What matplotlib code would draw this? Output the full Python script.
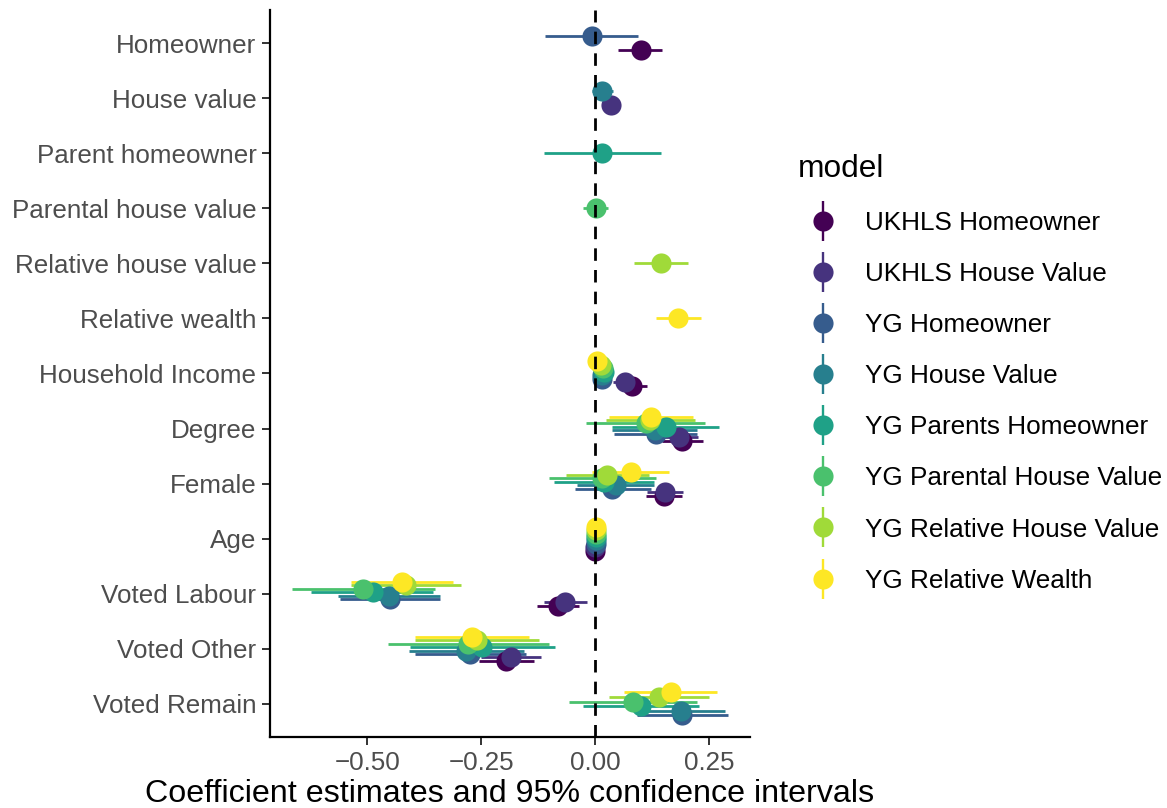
import numpy as np
import matplotlib
matplotlib.use("Agg")
import matplotlib.pyplot as plt
from matplotlib.lines import Line2D
from matplotlib.legend_handler import HandlerTuple
from matplotlib.ticker import FuncFormatter

plt.rcParams['font.family'] = ['Liberation Sans', 'DejaVu Sans']

nan = np.nan

terms = ['Homeowner', 'House value', 'Parent homeowner', 'Parental house value',
         'Relative house value', 'Relative wealth', 'Household Income', 'Degree',
         'Female', 'Age', 'Voted Labour', 'Voted Other', 'Voted Remain']

models = ['UKHLS Homeowner', 'UKHLS House Value', 'YG Homeowner', 'YG House Value',
          'YG Parents Homeowner', 'YG Parental House Value',
          'YG Relative House Value', 'YG Relative Wealth']

# one row per model, one column per term (nan = term not in that model)
estimate = [
    [0.100, nan, nan, nan, nan, nan, 0.080, 0.190, 0.151, -0.001, -0.082, -0.195, nan],
    [nan, 0.036, nan, nan, nan, nan, 0.066, 0.184, 0.153, 0.000, -0.066, -0.184, nan],
    [-0.007, nan, nan, nan, nan, nan, 0.015, 0.133, 0.038, 0.001, -0.449, -0.274, 0.191],
    [nan, 0.016, nan, nan, nan, nan, 0.016, 0.131, 0.045, 0.001, -0.451, -0.283, 0.188],
    [nan, nan, 0.016, nan, nan, nan, 0.020, 0.155, 0.020, 0.002, -0.488, -0.248, 0.101],
    [nan, nan, nan, 0.001, nan, nan, 0.017, 0.112, 0.016, 0.002, -0.508, -0.278, 0.084],
    [nan, nan, nan, nan, 0.144, nan, 0.014, 0.121, 0.027, 0.002, -0.414, -0.259, 0.141],
    [nan, nan, nan, nan, nan, 0.182, 0.004, 0.122, 0.078, 0.003, -0.424, -0.270, 0.166],
]
lower = [
    [0.051, nan, nan, nan, nan, nan, 0.048, 0.147, 0.112, -0.004, -0.128, -0.254, nan],
    [nan, 0.025, nan, nan, nan, nan, 0.040, 0.142, 0.114, -0.003, -0.112, -0.250, nan],
    [-0.109, nan, nan, nan, nan, nan, 0.003, 0.042, -0.044, -0.002, -0.559, -0.396, 0.093],
    [nan, -0.007, nan, nan, nan, nan, 0.004, 0.038, -0.039, -0.002, -0.564, -0.409, 0.093],
    [nan, nan, -0.113, nan, nan, nan, 0.008, 0.038, -0.090, -0.001, -0.624, -0.407, -0.026],
    [nan, nan, nan, -0.026, nan, nan, 0.005, -0.019, -0.102, -0.001, -0.664, -0.454, -0.057],
    [nan, nan, nan, nan, 0.086, nan, 0.002, 0.023, -0.064, -0.001, -0.535, -0.394, 0.031],
    [nan, nan, nan, nan, nan, 0.133, -0.008, 0.031, -0.006, 0.000, -0.535, -0.396, 0.063],
]
upper = [
    [0.147, nan, nan, nan, nan, nan, 0.115, 0.236, 0.190, 0.002, -0.035, -0.133, nan],
    [nan, 0.047, nan, nan, nan, nan, 0.092, 0.226, 0.192, 0.003, -0.017, -0.119, nan],
    [0.095, nan, nan, nan, nan, nan, 0.027, 0.224, 0.122, 0.004, -0.340, -0.152, 0.292],
    [nan, 0.039, nan, nan, nan, nan, 0.028, 0.224, 0.130, 0.004, -0.340, -0.155, 0.286],
    [nan, nan, 0.144, nan, nan, nan, 0.032, 0.271, 0.129, 0.005, -0.356, -0.088, 0.228],
    [nan, nan, nan, 0.029, nan, nan, 0.029, 0.242, 0.133, 0.005, -0.352, -0.101, 0.224],
    [nan, nan, nan, nan, 0.203, nan, 0.026, 0.220, 0.118, 0.005, -0.294, -0.124, 0.251],
    [nan, nan, nan, nan, nan, 0.233, 0.016, 0.214, 0.162, 0.006, -0.312, -0.144, 0.268],
]

colours = ['#440154', '#46337E', '#365C8D', '#277F8E',
           '#1FA187', '#4AC16D', '#A0DA39', '#FDE725']

est = np.array(estimate)
lo = np.array(lower)
hi = np.array(upper)

n_terms = len(terms)
base_y = np.arange(n_terms)[::-1]  # first term on top

# dodge like ggplot (width 0.5), only among models present in each term
dodge = 0.5
offsets = np.full(est.shape, nan)
for j in range(n_terms):
    present = [m for m in range(len(models)) if not np.isnan(est[m, j])]
    n = len(present)
    for k, m in enumerate(present):
        offsets[m, j] = (k - (n - 1) / 2) * dodge / n

fig = plt.figure(figsize=(11.67, 8.08), dpi=100)
ax = fig.add_axes([0.2314, 0.0879, 0.4113, 0.8997])

# ranges first, then points on top
for m in range(len(models)):
    ok = ~np.isnan(est[m])
    ax.hlines(base_y[ok] + offsets[m, ok], lo[m, ok], hi[m, ok],
              color=colours[m], lw=2.0, zorder=2)
for m in range(len(models)):
    ok = ~np.isnan(est[m])
    ax.plot(est[m, ok], base_y[ok] + offsets[m, ok], 'o', color=colours[m],
            markersize=14.5, markeredgewidth=0, zorder=3 + m)

ax.axvline(0, color='black', lw=2.0, dashes=(4.5, 3.3), zorder=20)

ax.set_xlim(-0.713, 0.340)
ax.set_ylim(-0.6, n_terms - 0.4)
ax.set_yticks(base_y)
ax.set_yticklabels(terms)
ax.set_xticks([-0.5, -0.25, 0.0, 0.25])
ax.xaxis.set_major_formatter(FuncFormatter(lambda v, p: f"{v:.2f}".replace('-', '\u2212')))

for s in ['top', 'right']:
    ax.spines[s].set_visible(False)
for s in ['left', 'bottom']:
    ax.spines[s].set_linewidth(1.6)
ax.tick_params(axis='both', length=5.8, width=1.4, color='#333333',
               labelsize=18.7, labelcolor='#4D4D4D', pad=4)
ax.set_xlabel('Coefficient estimates and 95% confidence intervals',
              fontsize=23.2, color='black', labelpad=3)

handles = []
for m in range(len(models)):
    bar = Line2D([], [], color=colours[m], marker='|', linestyle='None',
                 markersize=29, markeredgewidth=1.7)
    dot = Line2D([], [], color=colours[m], marker='o', linestyle='None',
                 markersize=14.5, markeredgewidth=0)
    handles.append((bar, dot))

leg = fig.legend(handles, models, handler_map={tuple: HandlerTuple(ndivide=1, pad=0)},
                 loc='upper left', bbox_to_anchor=(0.684, 0.810), frameon=False,
                 fontsize=18.8, title='model', title_fontsize=22.8,
                 labelspacing=1.04, handlelength=1.9, handletextpad=0.65,
                 borderaxespad=0, borderpad=0)
leg._legend_box.align = 'left'

fig.savefig('out.png', dpi=100)
